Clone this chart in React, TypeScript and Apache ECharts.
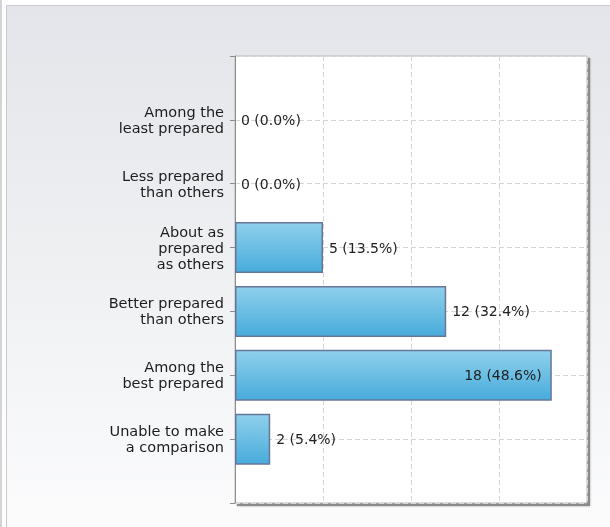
import React, { useEffect, useRef } from "react";
import * as echarts from "echarts";

const categories = [
  "Among the\nleast prepared",
  "Less prepared\nthan others",
  "About as\nprepared\nas others",
  "Better prepared\nthan others",
  "Among the\nbest prepared",
  "Unable to make\na comparison",
];
const counts = [0, 0, 5, 12, 18, 2];
const percents = ["0.0", "0.0", "13.5", "32.4", "48.6", "5.4"];
const xTicks = [0, 5, 10, 15, 20];

const W = 610;
const H = 527;
const gridLeft = 235;
const gridTop = 56;
const gridRight = 587;
const gridBottom = 503;

export default function App() {
  const ref = useRef<HTMLDivElement>(null);
  useEffect(() => {
    if (!ref.current) return;
    const chart = echarts.init(ref.current, undefined, { renderer: "svg" });
    const yData = ["", ...categories, ""];
    const seriesData = counts.map((v, i) => {
      const inside = v >= 15;
      return {
        value: v,
        itemStyle: v === 0 ? { borderWidth: 0 } : undefined,
        label: {
          show: true,
          position: inside ? "insideRight" : "right",
          distance: inside ? 10 : 6,
          formatter: () => `${v} (${percents[i]}%)`,
        },
      };
    });
    chart.setOption({
      animation: false,
      graphic: [
        {
          type: "rect",
          z: -20,
          silent: true,
          shape: { x: 0, y: 0, width: 2, height: H },
          style: { fill: "#d4d4d4" },
        },
        {
          type: "rect",
          z: -19,
          silent: true,
          shape: { x: 6.5, y: 5.5, width: W, height: H },
          style: {
            fill: new echarts.graphic.LinearGradient(0, 0, 0, 1, [
              { offset: 0, color: "#e4e5ea" },
              { offset: 0.5, color: "#eef0f2" },
              { offset: 1, color: "#fcfcfd" },
            ]),
            stroke: "#c9c9cc",
            lineWidth: 1,
          },
        },
        {
          type: "rect",
          z: -18,
          silent: true,
          shape: { x: gridLeft + 2, y: gridTop + 2, width: gridRight - gridLeft + 1, height: gridBottom - gridTop + 1 },
          style: { fill: "#8a8a8a", shadowBlur: 2, shadowColor: "rgba(0,0,0,0.35)" },
        },
        {
          type: "rect",
          z: -17,
          silent: true,
          shape: { x: gridLeft, y: gridTop, width: gridRight - gridLeft, height: gridBottom - gridTop },
          style: { fill: "#ffffff", stroke: "#b9b9b9", lineWidth: 1 },
        },
      ],
      grid: {
        left: gridLeft,
        top: gridTop,
        right: W - gridRight,
        bottom: H - gridBottom,
        containLabel: false,
      },
      xAxis: {
        type: "value",
        min: xTicks[0],
        max: xTicks[xTicks.length - 1],
        interval: xTicks[1] - xTicks[0],
        axisLabel: { show: false },
        axisLine: { show: false },
        axisTick: { show: false },
        splitLine: { show: true, lineStyle: { color: "#d6d6d6", type: [5, 3], width: 1 } },
      },
      yAxis: {
        type: "category",
        inverse: true,
        boundaryGap: false,
        data: yData,
        axisLine: { show: true, lineStyle: { color: "#8c8c8c", width: 1 } },
        axisTick: { show: true, length: 5, lineStyle: { color: "#8c8c8c" } },
        axisLabel: {
          margin: 11,
          color: "#1c1c1c",
          fontFamily: "DejaVu Sans",
          fontSize: 14.5,
          lineHeight: 16,
          align: "right",
        },
        splitLine: { show: true, lineStyle: { color: "#d6d6d6", type: [5, 3], width: 1 } },
      },
      series: [
        {
          type: "bar",
          data: [null, ...seriesData, null],
          barWidth: 51,
          itemStyle: {
            color: new echarts.graphic.LinearGradient(0, 0, 0, 1, [
              { offset: 0, color: "#8fd0ec" },
              { offset: 1, color: "#48acdc" },
            ]),
            borderColor: "#66779a",
            borderWidth: 1.5,
          },
          label: {
            color: "#222222",
            fontFamily: "DejaVu Sans",
            fontSize: 14,
          },
        },
      ],
    });
    return () => chart.dispose();
  }, []);
  return (
    <div
      ref={ref}
      style={{ position: "fixed", left: 0, top: 0, width: W, height: H }}
    />
  );
}
